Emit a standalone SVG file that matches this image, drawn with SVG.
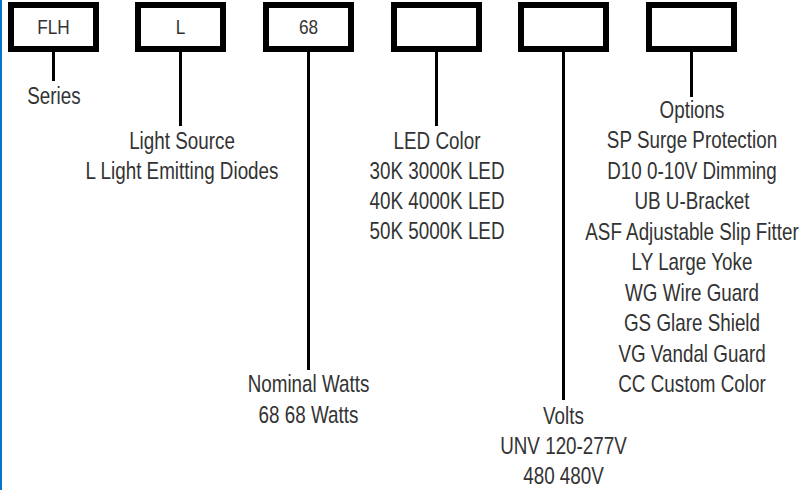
<svg xmlns="http://www.w3.org/2000/svg" width="801" height="490" viewBox="0 0 801 490">
<style>
.box{fill:#fff;stroke:#000;stroke-width:6}
.bt{font-family:"Liberation Sans",Arial,sans-serif;font-size:21px;fill:#333;text-anchor:middle}
.lt{font-family:"Liberation Sans",Arial,sans-serif;font-size:24px;fill:#333;text-anchor:middle}
.con{stroke:#000;stroke-width:3;fill:none}
</style>
<rect x="0" y="0" width="801" height="490" fill="#fff"/>
<rect x="0" y="0" width="2" height="490" fill="#0b72c9"/>
<g id="connectors">
<line class="con" x1="53.5" y1="50" x2="53.5" y2="81"/>
<line class="con" x1="180.5" y1="50" x2="180.5" y2="126"/>
<line class="con" x1="308.5" y1="50" x2="308.5" y2="370"/>
<line class="con" x1="436.5" y1="50" x2="436.5" y2="126"/>
<line class="con" x1="563.5" y1="50" x2="563.5" y2="400"/>
<line class="con" x1="691.5" y1="50" x2="691.5" y2="97"/>
</g>
<g id="box-series"><rect class="box" x="11" y="5" width="85" height="44"/><g transform="translate(53.5 0) scale(0.82 1)"><text class="bt" x="0" y="34.5">FLH</text></g></g>
<g id="box-source"><rect class="box" x="138" y="5" width="85" height="44"/><g transform="translate(180.5 0) scale(0.82 1)"><text class="bt" x="0" y="34.5">L</text></g></g>
<g id="box-watts"><rect class="box" x="266" y="5" width="85" height="44"/><g transform="translate(308.5 0) scale(0.82 1)"><text class="bt" x="0" y="34.5">68</text></g></g>
<g id="box-color"><rect class="box" x="394" y="5" width="85" height="44"/></g>
<g id="box-volts"><rect class="box" x="521" y="5" width="85" height="44"/></g>
<g id="box-options"><rect class="box" x="649" y="5" width="85" height="44"/></g>
<g id="label-series" transform="translate(54 0) scale(0.785 1)"><text class="lt" x="0" y="104">Series</text></g>
<g id="label-source" transform="translate(182 0) scale(0.785 1)"><text class="lt" x="0" y="149">Light Source</text><text class="lt" x="0" y="179">L Light Emitting Diodes</text></g>
<g id="label-watts" transform="translate(308.5 0) scale(0.785 1)"><text class="lt" x="0" y="392">Nominal Watts</text><text class="lt" x="0" y="423">68 68 Watts</text></g>
<g id="label-color" transform="translate(437 0) scale(0.785 1)"><text class="lt" x="0" y="149">LED Color</text><text class="lt" x="0" y="179">30K 3000K LED</text><text class="lt" x="0" y="209">40K 4000K LED</text><text class="lt" x="0" y="239">50K 5000K LED</text></g>
<g id="label-volts" transform="translate(563.5 0) scale(0.785 1)"><text class="lt" x="0" y="424">Volts</text><text class="lt" x="0" y="454">UNV 120-277V</text><text class="lt" x="0" y="484">480 480V</text></g>
<g id="label-options" transform="translate(692 0) scale(0.785 1)"><text class="lt" x="0" y="118">Options</text><text class="lt" x="0" y="148.5">SP Surge Protection</text><text class="lt" x="0" y="179">D10 0-10V Dimming</text><text class="lt" x="0" y="209.5">UB U-Bracket</text><text class="lt" x="0" y="240">ASF Adjustable Slip Fitter</text><text class="lt" x="0" y="270.5">LY Large Yoke</text><text class="lt" x="0" y="301">WG Wire Guard</text><text class="lt" x="0" y="331.5">GS Glare Shield</text><text class="lt" x="0" y="362">VG Vandal Guard</text><text class="lt" x="0" y="392.5">CC Custom Color</text></g>
</svg>
